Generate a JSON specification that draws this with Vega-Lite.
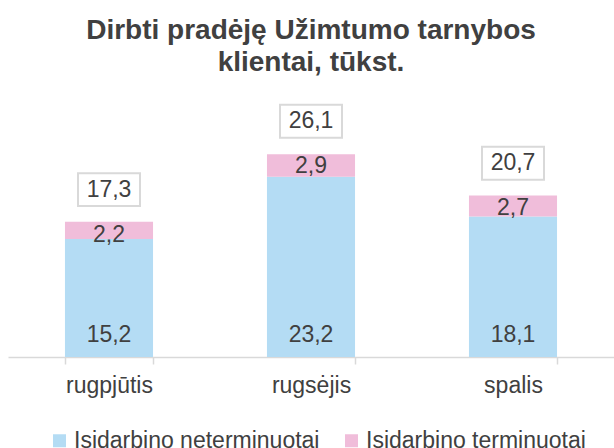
{
  "$schema": "https://vega.github.io/schema/vega-lite/v6.json",
  "autosize": "none",
  "width": 606,
  "height": 233,
  "padding": {"left": 8, "top": 124, "right": 0, "bottom": 91},
  "title": {
    "text": ["Dirbti pradėję Užimtumo tarnybos", "klientai, tūkst."],
    "font": "Liberation Sans",
    "fontSize": 28,
    "fontWeight": "bold",
    "color": "#404040",
    "lineHeight": 32,
    "offset": 24,
    "anchor": "middle"
  },
  "datasets": {
    "seg": [
      {"month": "rugpjūtis", "type": "Įsidarbino neterminuotai", "value": 15.2},
      {"month": "rugpjūtis", "type": "Įsidarbino terminuotai", "value": 2.2},
      {"month": "rugsėjis", "type": "Įsidarbino neterminuotai", "value": 23.2},
      {"month": "rugsėjis", "type": "Įsidarbino terminuotai", "value": 2.9},
      {"month": "spalis", "type": "Įsidarbino neterminuotai", "value": 18.1},
      {"month": "spalis", "type": "Įsidarbino terminuotai", "value": 2.7}
    ],
    "tot": [
      {"month": "rugpjūtis", "total": 17.3},
      {"month": "rugsėjis", "total": 26.1},
      {"month": "spalis", "total": 20.7}
    ]
  },
  "encoding": {
    "x": {
      "field": "month",
      "type": "nominal",
      "sort": null,
      "scale": {"paddingInner": 0.564, "paddingOuter": 0.282},
      "axis": {
        "title": null,
        "labelAngle": 0,
        "labelFont": "Liberation Sans",
        "labelFontSize": 23,
        "labelColor": "#404040",
        "labelPadding": 10,
        "tickBand": "extent",
        "tickSize": 7,
        "tickColor": "#d9d9d9",
        "domainColor": "#d9d9d9",
        "domainWidth": 1.5,
        "tickWidth": 1.5
      }
    }
  },
  "layer": [
    {
      "data": {"name": "seg"},
      "mark": {"type": "bar"},
      "encoding": {
        "y": {"field": "value", "type": "quantitative", "stack": "zero", "scale": {"domain": [0, 30]}, "axis": null},
        "order": {"field": "type", "type": "nominal", "sort": "ascending"},
        "color": {
          "field": "type",
          "type": "nominal",
          "scale": {"domain": ["Įsidarbino neterminuotai", "Įsidarbino terminuotai"], "range": ["#b4dcf4", "#f0bdda"]},
          "legend": {
            "title": null,
            "orient": "none",
            "legendX": 40,
            "legendY": 305,
            "direction": "horizontal",
            "symbolType": "square",
            "symbolSize": 169,
            "symbolStrokeWidth": 0,
            "labelFont": "Liberation Sans",
            "labelFontSize": 23,
            "labelColor": "#404040",
            "labelOffset": 3,
            "columnPadding": 20,
            "labelLimit": 400
          }
        }
      }
    },
    {
      "data": {"name": "seg"},
      "transform": [{"filter": "datum.type === 'Įsidarbino neterminuotai'"}],
      "mark": {"type": "text", "font": "Liberation Sans", "fontSize": 23, "color": "#404040", "baseline": "middle", "dy": -22},
      "encoding": {
        "y": {"datum": 0, "type": "quantitative"},
        "text": {"field": "value", "type": "quantitative", "format": ".1f"}
      }
    },
    {
      "data": {"name": "seg"},
      "transform": [
        {"filter": "datum.type === 'Įsidarbino terminuotai'"},
        {"lookup": "month", "from": {"data": {"name": "tot"}, "key": "month", "fields": ["total"]}}
      ],
      "mark": {"type": "text", "font": "Liberation Sans", "fontSize": 23, "color": "#404040", "baseline": "middle", "dy": 12},
      "encoding": {
        "y": {"field": "total", "type": "quantitative"},
        "text": {"field": "value", "type": "quantitative", "format": ".1f"}
      }
    },
    {
      "data": {"name": "tot"},
      "mark": {"type": "point", "shape": "M-1,-0.53L1,-0.53L1,0.53L-1,0.53Z", "size": 3844, "filled": true, "fill": "white", "stroke": "#d9d9d9", "strokeWidth": 2, "opacity": 1, "yOffset": -33},
      "encoding": {
        "y": {"field": "total", "type": "quantitative"}
      }
    },
    {
      "data": {"name": "tot"},
      "mark": {"type": "text", "font": "Liberation Sans", "fontSize": 23, "color": "#404040", "baseline": "middle", "dy": -33},
      "encoding": {
        "y": {"field": "total", "type": "quantitative"},
        "text": {"field": "total", "type": "quantitative", "format": ".1f"}
      }
    }
  ],
  "config": {
    "view": {"stroke": null},
    "locale": {"number": {"decimal": ",", "thousands": " ", "grouping": [3], "currency": ["", " €"]}}
  }
}
